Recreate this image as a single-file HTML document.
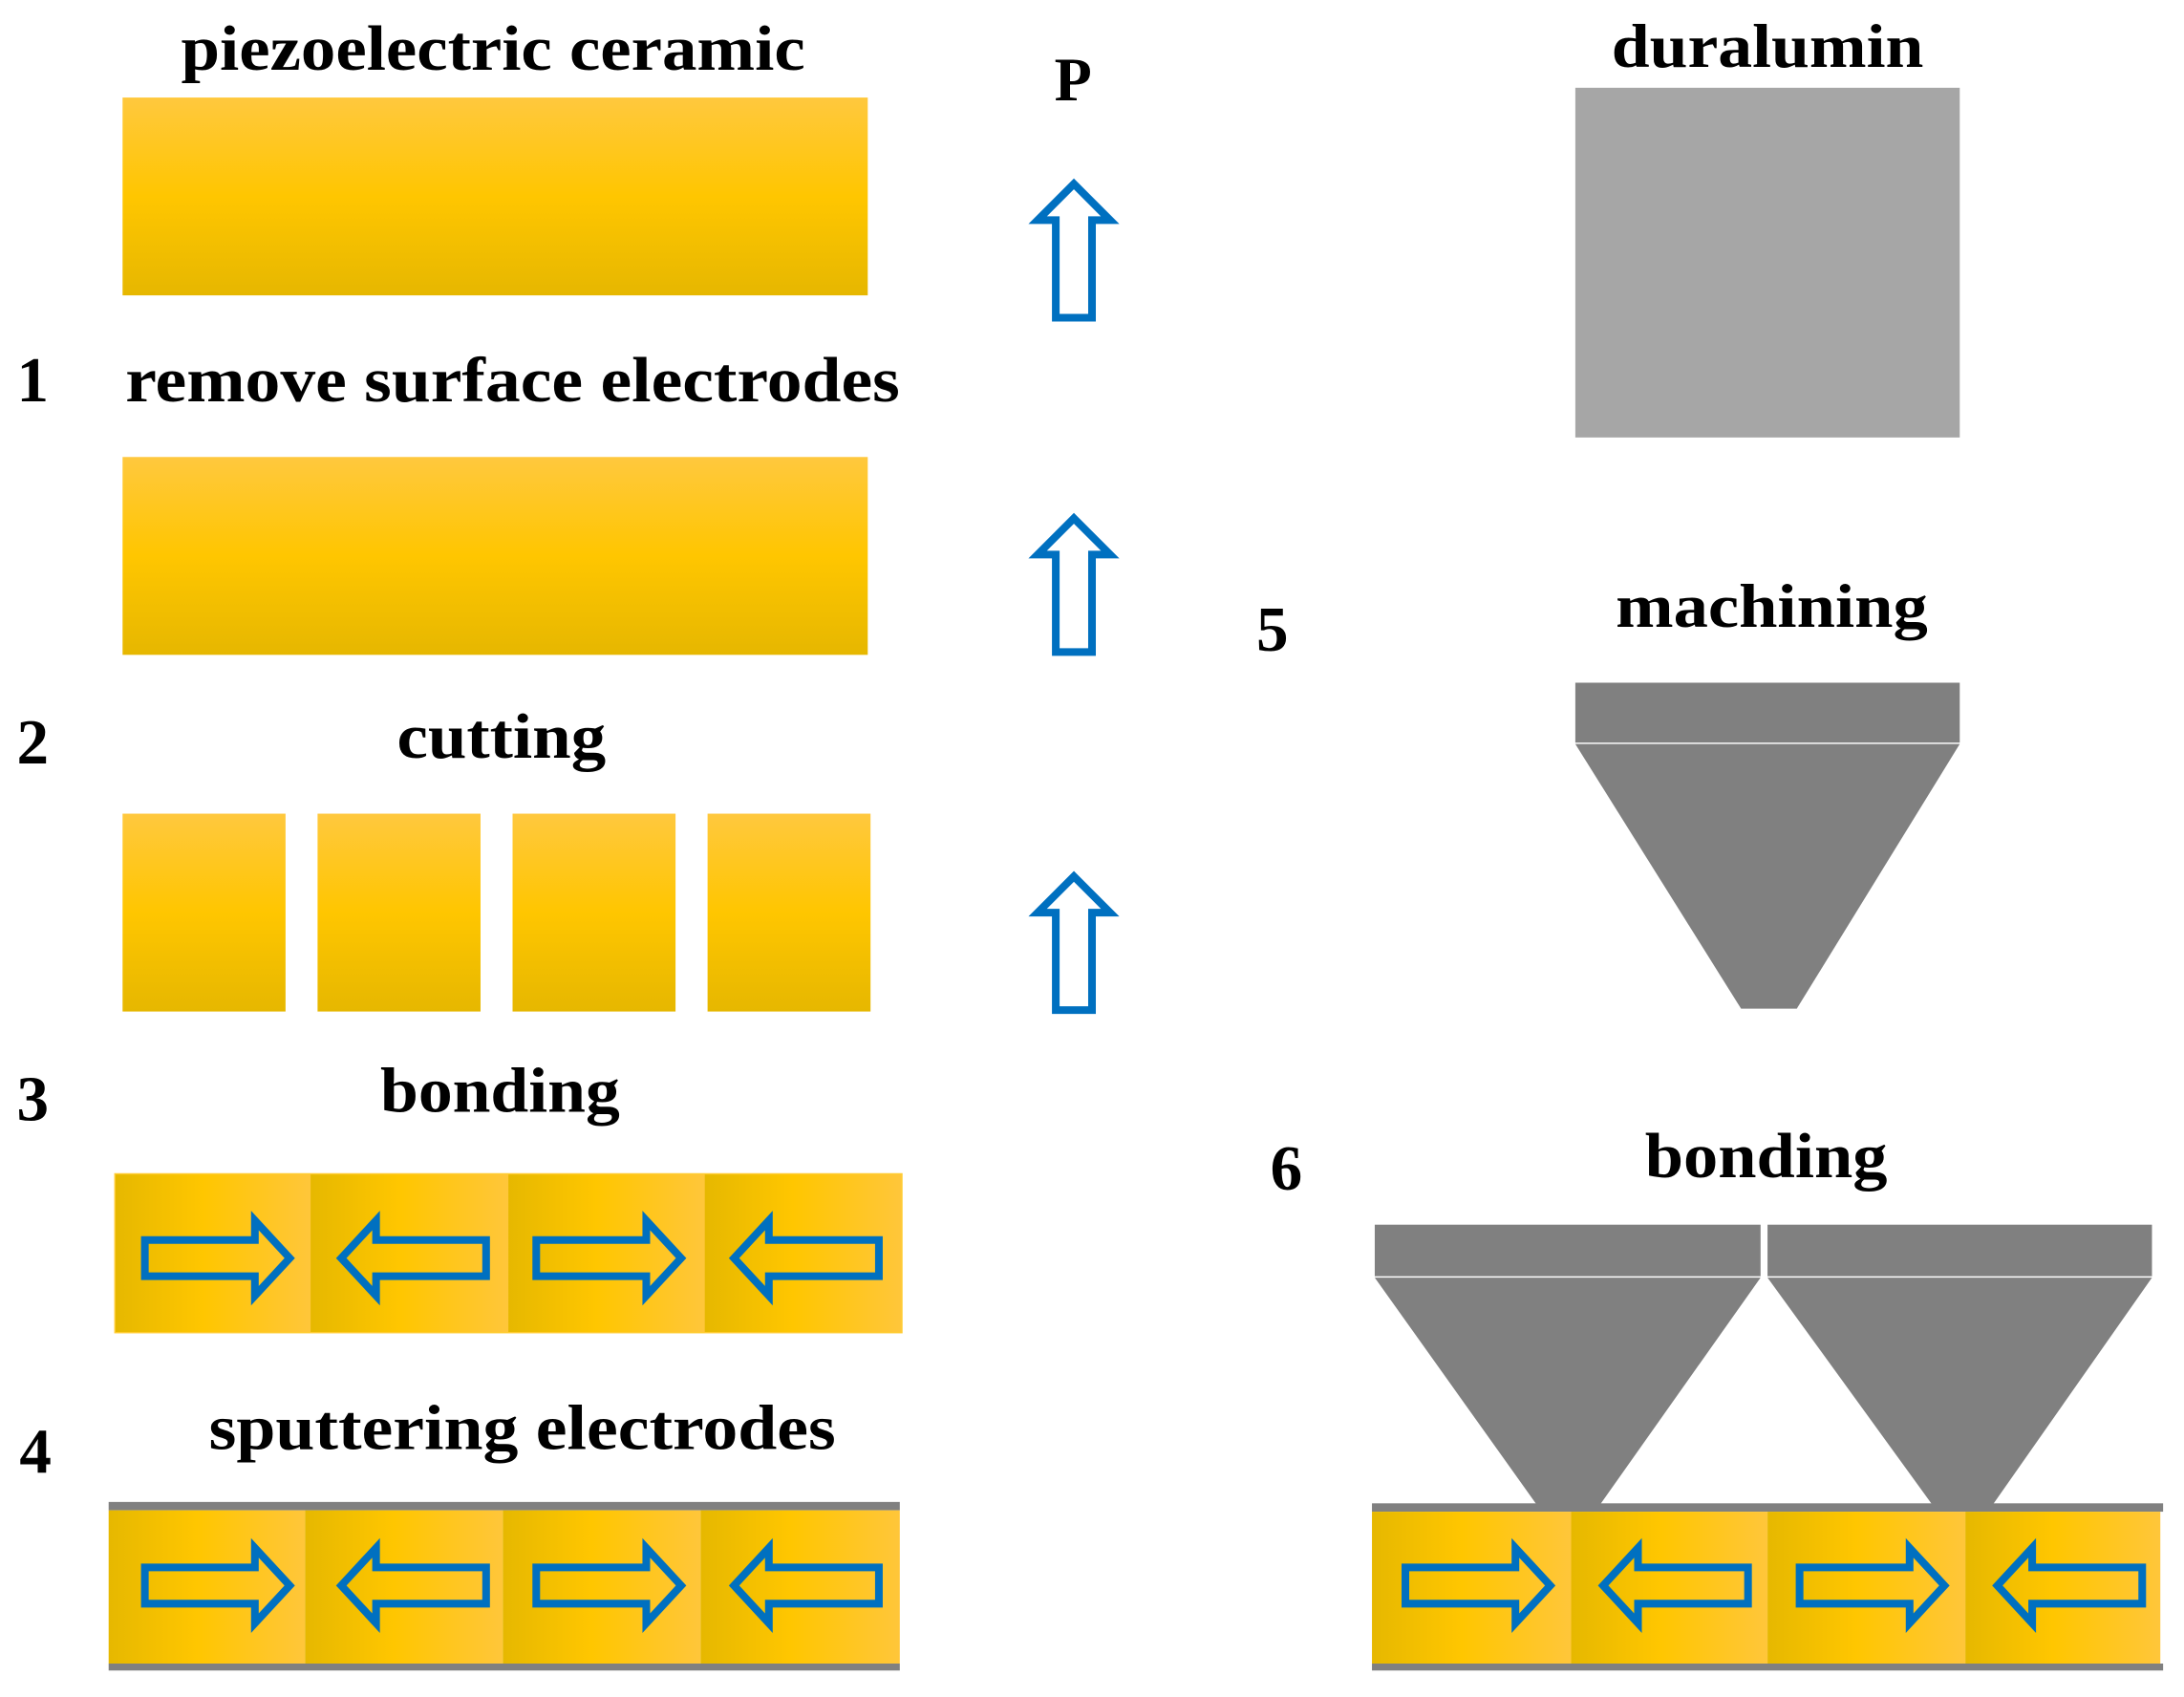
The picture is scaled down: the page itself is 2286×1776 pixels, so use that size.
<!DOCTYPE html>
<html><head><meta charset="utf-8"><style>
html,body{margin:0;padding:0;background:#fff;}
svg{display:block;}
text{font-family:"Liberation Serif","Times New Roman",serif;font-weight:bold;fill:#000;}
</style></head><body>
<svg width="2286" height="1776" viewBox="0 0 1568 1218" preserveAspectRatio="none" xmlns="http://www.w3.org/2000/svg">
<defs>
<linearGradient id="gv" x1="0" y1="0" x2="0" y2="1">
<stop offset="0" stop-color="#ffc83e"/><stop offset="0.5" stop-color="#ffc600"/><stop offset="1" stop-color="#e6b700"/>
</linearGradient>
<linearGradient id="gh" x1="0" y1="0" x2="1" y2="0">
<stop offset="0" stop-color="#e6b800"/><stop offset="0.45" stop-color="#ffc600"/><stop offset="1" stop-color="#ffc63a"/>
</linearGradient>
<path id="ar" d="M0,-13 L79,-13 L79,-27 L104,0 L79,27 L79,13 L0,13 Z" fill="none" stroke="#0070c0" stroke-width="5.5"/>
<path id="al" d="M104,-13 L25,-13 L25,-27 L0,0 L25,27 L25,13 L104,13 Z" fill="none" stroke="#0070c0" stroke-width="5.5"/>
<path id="au" d="M0,-48 L26,-22 L13,-22 L13,48 L-13,48 L-13,-22 L-26,-22 Z" fill="none" stroke="#0070c0" stroke-width="5.5"/>
</defs>

<text x="130" y="50" font-size="46" textLength="448" lengthAdjust="spacingAndGlyphs">piezoelectric ceramic</text>
<text x="757" y="72" font-size="44">P</text>
<text x="12" y="288" font-size="46">1</text>
<text x="90" y="288" font-size="46" textLength="556" lengthAdjust="spacingAndGlyphs">remove surface electrodes</text>
<text x="12" y="548" font-size="46">2</text>
<text x="285" y="544" font-size="46" textLength="150" lengthAdjust="spacingAndGlyphs">cutting</text>
<text x="12" y="804" font-size="46">3</text>
<text x="273" y="798" font-size="46" textLength="172" lengthAdjust="spacingAndGlyphs">bonding</text>
<text x="14" y="1057" font-size="46">4</text>
<text x="150" y="1040" font-size="46" textLength="450" lengthAdjust="spacingAndGlyphs">sputtering electrodes</text>
<text x="1157" y="48" font-size="44" textLength="224" lengthAdjust="spacingAndGlyphs">duralumin</text>
<text x="902" y="467" font-size="46">5</text>
<text x="1160" y="450" font-size="44" textLength="224" lengthAdjust="spacingAndGlyphs">machining</text>
<text x="912" y="854" font-size="46">6</text>
<text x="1181" y="845" font-size="46" textLength="174" lengthAdjust="spacingAndGlyphs">bonding</text>

<rect x="88" y="70" width="535" height="142" fill="url(#gv)"/>
<rect x="88" y="328" width="535" height="142" fill="url(#gv)"/>
<rect x="88" y="584" width="117" height="142" fill="url(#gv)"/>
<rect x="228" y="584" width="117" height="142" fill="url(#gv)"/>
<rect x="368" y="584" width="117" height="142" fill="url(#gv)"/>
<rect x="508" y="584" width="117" height="142" fill="url(#gv)"/>

<use href="#au" x="771" y="180"/>
<use href="#au" x="771" y="420"/>
<use href="#au" x="771" y="677"/>

<rect x="82" y="842" width="566" height="115" fill="#ffcc33"/>
<rect x="83" y="843" width="140" height="113" fill="url(#gh)"/>
<rect x="223" y="843" width="142" height="113" fill="url(#gh)"/>
<rect x="365" y="843" width="141" height="113" fill="url(#gh)"/>
<rect x="506" y="843" width="141" height="113" fill="url(#gh)"/>
<use href="#ar" x="104" y="903"/>
<use href="#al" x="245" y="903"/>
<use href="#ar" x="385" y="903"/>
<use href="#al" x="527" y="903"/>

<rect x="78" y="1078" width="568" height="6" fill="#808080"/>
<rect x="78" y="1084" width="141" height="110" fill="url(#gh)"/>
<rect x="219" y="1084" width="142" height="110" fill="url(#gh)"/>
<rect x="361" y="1084" width="142" height="110" fill="url(#gh)"/>
<rect x="503" y="1084" width="143" height="110" fill="url(#gh)"/>
<rect x="78" y="1194" width="568" height="5" fill="#808080"/>
<use href="#ar" x="104" y="1138"/>
<use href="#al" x="245" y="1138"/>
<use href="#ar" x="385" y="1138"/>
<use href="#al" x="527" y="1138"/>

<rect x="1131" y="63" width="276" height="251" fill="#a6a6a6"/>
<rect x="1131" y="490" width="276" height="43" fill="#808080"/>
<polygon points="1131,534 1407,534 1290,724 1250,724" fill="#808080"/>

<rect x="987" y="879" width="277" height="37" fill="#808080"/>
<polygon points="987,917 1264,917 1148,1081 1104,1081" fill="#808080"/>
<rect x="1269" y="879" width="276" height="37" fill="#808080"/>
<polygon points="1269,917 1545,917 1430,1081 1388,1081" fill="#808080"/>

<rect x="985" y="1079" width="568" height="6" fill="#808080"/>
<rect x="985" y="1085" width="143" height="109" fill="url(#gh)"/>
<rect x="1128" y="1085" width="141" height="109" fill="url(#gh)"/>
<rect x="1269" y="1085" width="142" height="109" fill="url(#gh)"/>
<rect x="1411" y="1085" width="140" height="109" fill="url(#gh)"/>
<rect x="985" y="1194" width="568" height="5" fill="#808080"/>
<use href="#ar" x="1009" y="1138"/>
<use href="#al" x="1151" y="1138"/>
<use href="#ar" x="1292" y="1138"/>
<use href="#al" x="1434" y="1138"/>
</svg>
</body></html>
